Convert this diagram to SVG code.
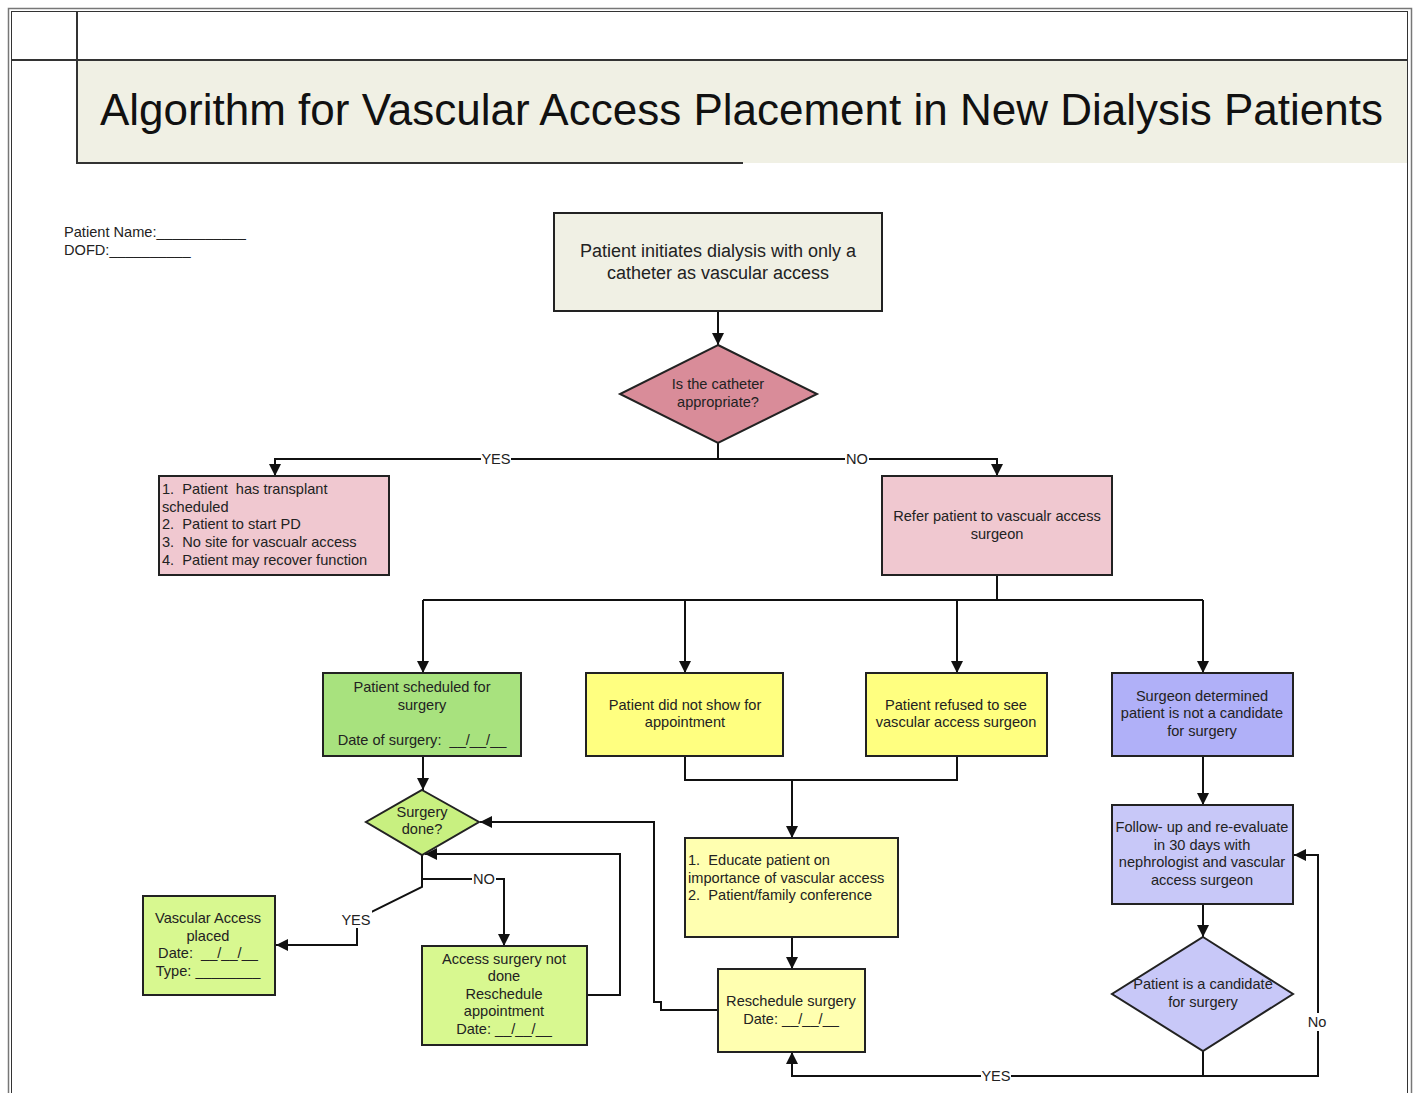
<svg xmlns="http://www.w3.org/2000/svg" width="1418" height="1093" viewBox="0 0 1418 1093">
<defs>
<marker id="arr" markerUnits="userSpaceOnUse" markerWidth="12" markerHeight="12" refX="12" refY="6" orient="auto">
<path d="M0,0 L12,6 L0,12 z" fill="#111"/>
</marker>
<style>
text{font-family:"Liberation Sans",Arial,sans-serif;fill:#222;}
.t{font-size:14.6px;}
.c{text-anchor:middle;}
.box{stroke:#222;stroke-width:2;}
.ln{fill:none;stroke:#111;stroke-width:2;}
.ar{fill:none;stroke:#111;stroke-width:2;marker-end:url(#arr);}
.lbl{font-size:14.6px;text-anchor:middle;}
</style>
</defs>
<rect width="1418" height="1093" fill="#fff"/>
<g id="frame">
<rect x="8.5" y="8.5" width="1403" height="1100" fill="none" stroke="#777" stroke-width="1.5"/>
<rect x="11.5" y="11.5" width="1396" height="1100" fill="none" stroke="#333" stroke-width="1"/>
<rect x="78" y="61" width="1329" height="102" fill="#F0F0E4"/>
<line x1="12" y1="60" x2="1407" y2="60" stroke="#333" stroke-width="2"/>
<line x1="77" y1="12" x2="77" y2="164" stroke="#333" stroke-width="2"/>
<line x1="77" y1="163" x2="743" y2="163" stroke="#333" stroke-width="2"/>
<text x="100" y="125" font-size="44" textLength="1283" lengthAdjust="spacingAndGlyphs" style="fill:#111">Algorithm for Vascular Access Placement in New Dialysis Patients</text>
</g>
<g id="patient-info">
<text x="64" y="237" class="t">Patient Name:___________</text>
<text x="64" y="255" class="t">DOFD:__________</text>
</g>
<g id="connectors">
<path class="ar" d="M718,311 V345"/>
<path class="ln" d="M718,443 V459"/>
<path class="ar" d="M718,459 H275 V476"/>
<path class="ar" d="M718,459 H997 V476"/>
<path class="ln" d="M997,575 V600 M423,600 H1203"/>
<path class="ar" d="M423,600 V673"/>
<path class="ar" d="M685,600 V673"/>
<path class="ar" d="M957,600 V673"/>
<path class="ar" d="M1203,600 V673"/>
<path class="ar" d="M423,756 V790"/>
<path class="ln" d="M685,756 V780 H957 V756"/>
<path class="ar" d="M792,780 V838"/>
<path class="ar" d="M792,937 V969"/>
<path class="ar" d="M718,1010 H661 V1002 H654 V822 H480"/>
<path class="ar" d="M422,855 V887 L357,919 V945 H276"/>
<path class="ar" d="M422,879 H504 V946"/>
<path class="ar" d="M587,995 H620 V854 H425"/>
<path class="ar" d="M1203,756 V805"/>
<path class="ar" d="M1203,904 V937"/>
<path class="ar" d="M1203,1051 V1076 H792 V1052"/>
<path class="ar" d="M1203,1076 H1318 V855 H1294"/>
<rect x="481" y="451" width="30" height="16" fill="#fff"/>
<text x="496" y="464" class="lbl">YES</text>
<rect x="845" y="451" width="24" height="16" fill="#fff"/>
<text x="857" y="464" class="lbl">NO</text>
<rect x="341" y="910" width="31" height="18" fill="#fff"/>
<text x="356" y="925" class="lbl">YES</text>
<rect x="472" y="871" width="24" height="16" fill="#fff"/>
<text x="484" y="884" class="lbl">NO</text>
<rect x="981" y="1068" width="30" height="16" fill="#fff"/>
<text x="996" y="1081" class="lbl">YES</text>
<rect x="1306" y="1013" width="24" height="18" fill="#fff"/>
<text x="1317" y="1027" class="lbl">No</text>
</g>
<g id="start">
<rect class="box" x="554" y="213" width="328" height="98" fill="#F0F0E4"/>
<text x="718" y="257" font-size="18" class="c">Patient initiates dialysis with only a</text>
<text x="718" y="279" font-size="18" class="c">catheter as vascular access</text>
</g>
<g id="catheter-decision">
<polygon class="box" points="718,345 817,394 718,443 620,394" fill="#D98C99"/>
<text x="718" y="389" class="t c">Is the catheter</text>
<text x="718" y="407" class="t c">appropriate?</text>
</g>
<g id="no-access-reasons">
<rect class="box" x="159" y="476" width="230" height="99" fill="#F0C8D0"/>
<text x="162" y="494" class="t" xml:space="preserve">1.  Patient  has transplant</text>
<text x="162" y="512" class="t">scheduled</text>
<text x="162" y="529" class="t" xml:space="preserve">2.  Patient to start PD</text>
<text x="162" y="547" class="t" xml:space="preserve">3.  No site for vascualr access</text>
<text x="162" y="565" class="t" xml:space="preserve">4.  Patient may recover function</text>
</g>
<g id="refer-surgeon">
<rect class="box" x="882" y="476" width="230" height="99" fill="#F0C8D0"/>
<text x="997" y="521" class="t c">Refer patient to vascualr access</text>
<text x="997" y="539" class="t c">surgeon</text>
</g>
<g id="scheduled-surgery">
<rect class="box" x="323" y="673" width="198" height="83" fill="#A8E27E"/>
<text x="422" y="692" class="t c">Patient scheduled for</text>
<text x="422" y="710" class="t c">surgery</text>
<text x="422" y="745" class="t c" xml:space="preserve">Date of surgery:  __/__/__</text>
</g>
<g id="no-show">
<rect class="box" x="586" y="673" width="197" height="83" fill="#FFFF80"/>
<text x="685" y="710" class="t c">Patient did not show for</text>
<text x="685" y="727" class="t c">appointment</text>
</g>
<g id="refused">
<rect class="box" x="866" y="673" width="181" height="83" fill="#FFFF80"/>
<text x="956" y="710" class="t c">Patient refused to see</text>
<text x="956" y="727" class="t c">vascular access surgeon</text>
</g>
<g id="not-candidate">
<rect class="box" x="1112" y="673" width="181" height="83" fill="#B0B0F8"/>
<text x="1202" y="701" class="t c">Surgeon determined</text>
<text x="1202" y="718" class="t c">patient is not a candidate</text>
<text x="1202" y="736" class="t c">for surgery</text>
</g>
<g id="surgery-done">
<polygon class="box" points="422,790 479,822 422,855 366,822" fill="#C8F080"/>
<text x="422" y="817" class="t c">Surgery</text>
<text x="422" y="834" class="t c">done?</text>
</g>
<g id="access-placed">
<rect class="box" x="143" y="896" width="132" height="99" fill="#D8F890"/>
<text x="208" y="923" class="t c">Vascular Access</text>
<text x="208" y="941" class="t c">placed</text>
<text x="208" y="958" class="t c" xml:space="preserve">Date:  __/__/__</text>
<text x="208" y="976" class="t c">Type: ________</text>
</g>
<g id="not-done">
<rect class="box" x="422" y="946" width="165" height="99" fill="#D8F890"/>
<text x="504" y="964" class="t c">Access surgery not</text>
<text x="504" y="981" class="t c">done</text>
<text x="504" y="999" class="t c">Reschedule</text>
<text x="504" y="1016" class="t c">appointment</text>
<text x="504" y="1034" class="t c">Date: __/__/__</text>
</g>
<g id="educate">
<rect class="box" x="685" y="838" width="213" height="99" fill="#FFFFB0"/>
<text x="688" y="865" class="t" xml:space="preserve">1.  Educate patient on</text>
<text x="688" y="883" class="t">importance of vascular access</text>
<text x="688" y="900" class="t" xml:space="preserve">2.  Patient/family conference</text>
</g>
<g id="reschedule">
<rect class="box" x="718" y="969" width="147" height="83" fill="#FFFFB0"/>
<text x="791" y="1006" class="t c">Reschedule surgery</text>
<text x="791" y="1024" class="t c">Date: __/__/__</text>
</g>
<g id="follow-up">
<rect class="box" x="1112" y="805" width="181" height="99" fill="#C8C8F8"/>
<text x="1202" y="832" class="t c">Follow- up and re-evaluate</text>
<text x="1202" y="850" class="t c">in 30 days with</text>
<text x="1202" y="867" class="t c">nephrologist and vascular</text>
<text x="1202" y="885" class="t c">access surgeon</text>
</g>
<g id="candidate-decision">
<polygon class="box" points="1203,937 1293,994 1203,1051 1112,994" fill="#C8C8F8"/>
<text x="1203" y="989" class="t c">Patient is a candidate</text>
<text x="1203" y="1007" class="t c">for surgery</text>
</g>
</svg>
